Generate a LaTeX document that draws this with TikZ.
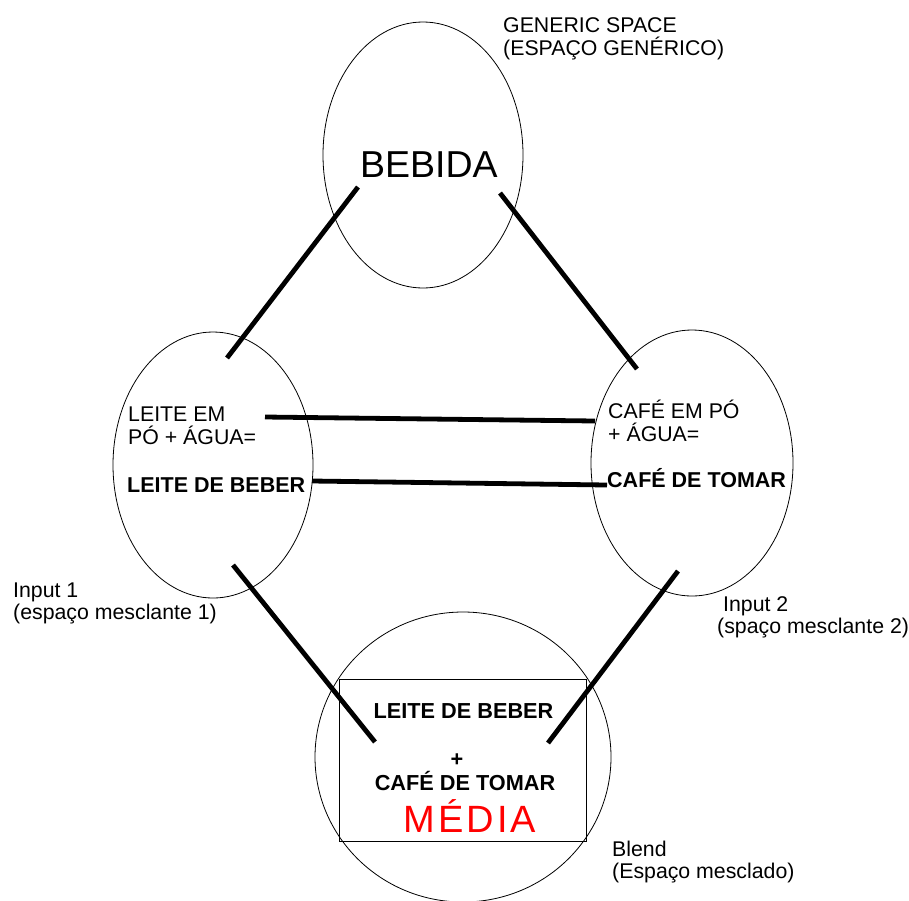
\documentclass[tikz,border=0pt]{standalone}
\usepackage{fontspec}
\setmainfont{Liberation Sans}
\usetikzlibrary{shapes.geometric}
\begin{document}
\begin{tikzpicture}[x=1pt,y=-1pt,
  space/.style={draw,ellipse,line width=0.8pt,inner sep=0pt},
  txt/.style={inner sep=0pt,anchor=base west,font=\fontsize{21.3}{23}\selectfont},
  btxt/.style={inner sep=0pt,anchor=base west,font=\fontsize{21.5}{23}\selectfont\bfseries},
  ctxt/.style={inner sep=0pt,anchor=base,font=\fontsize{21.7}{23}\selectfont\bfseries},
  link/.style={line width=4.8pt,line cap=butt}]
\useasboundingbox (0,0) rectangle (909,900);
% spaces
\node[space,minimum width=200pt,minimum height=266pt] (gen) at (423,155) {};
\node[space,minimum width=200pt,minimum height=266pt] (in1) at (213,465) {};
\node[space,minimum width=202pt,minimum height=266pt] (in2) at (692,463) {};
\node[space,minimum width=296pt,minimum height=290pt] (bl) at (463,757) {};
\node[draw,line width=0.8pt,inner sep=0pt,minimum width=247pt,minimum height=162pt] (box) at (462.5,760) {};
% texts
\node[txt] (g1) at (503,32) {GENERIC SPACE};
\node[txt] (g2) at (503,55) {(ESPAÇO GENÉRICO)};
\node[inner sep=0pt,anchor=base west,font=\fontsize{37.5}{40}\selectfont] (beb) at (360,177) {BEBIDA};
\node[txt] (a1) at (128,421) {LEITE EM};
\node[txt] (a2) at (128,444) {PÓ + ÁGUA=};
\node[btxt] (a3) at (127,492) {LEITE DE BEBER};
\node[txt] (b1) at (608,418) {CAFÉ EM PÓ};
\node[txt] (b2) at (608,441) {+ ÁGUA=};
\node[btxt] (b3) at (607,487) {CAFÉ DE TOMAR};
\node[txt] (i1a) at (13,597) {Input 1};
\node[txt] (i1b) at (13,619) {(espaço mesclante 1)};
\node[txt] (i2a) at (723,611) {Input 2};
\node[txt] (i2b) at (717,633) {(spaço mesclante 2)};
\node[txt] (bla) at (612,856) {Blend};
\node[txt] (blb) at (612,878) {(Espaço mesclado)};
\node[ctxt] (m1) at (463.5,718) {LEITE DE BEBER};
\node[ctxt] (m2) at (457,766) {+};
\node[ctxt] (m3) at (465,790) {CAFÉ DE TOMAR};
\node[inner sep=0pt,anchor=base,text=red,font=\fontsize{38}{40}\selectfont\addfontfeature{LetterSpace=8}] (med) at (470,832) {MÉDIA};
% connector ends
\coordinate (p1) at (358,187); \coordinate (q1) at (227,358);
\coordinate (p2) at (500,193); \coordinate (q2) at (637,369);
\coordinate (p3) at (265,417); \coordinate (q3) at (595,421);
\coordinate (p4) at (312,481); \coordinate (q4) at (607,485);
\coordinate (p5) at (233,565); \coordinate (q5) at (375,742);
\coordinate (p6) at (678,571); \coordinate (q6) at (548,743);
\draw[link] (p1) -- (q1);
\draw[link] (p2) -- (q2);
\draw[link] (p3) -- (q3);
\draw[link] (p4) -- (q4);
\draw[link] (p5) -- (q5);
\draw[link] (p6) -- (q6);
\end{tikzpicture}
\end{document}
